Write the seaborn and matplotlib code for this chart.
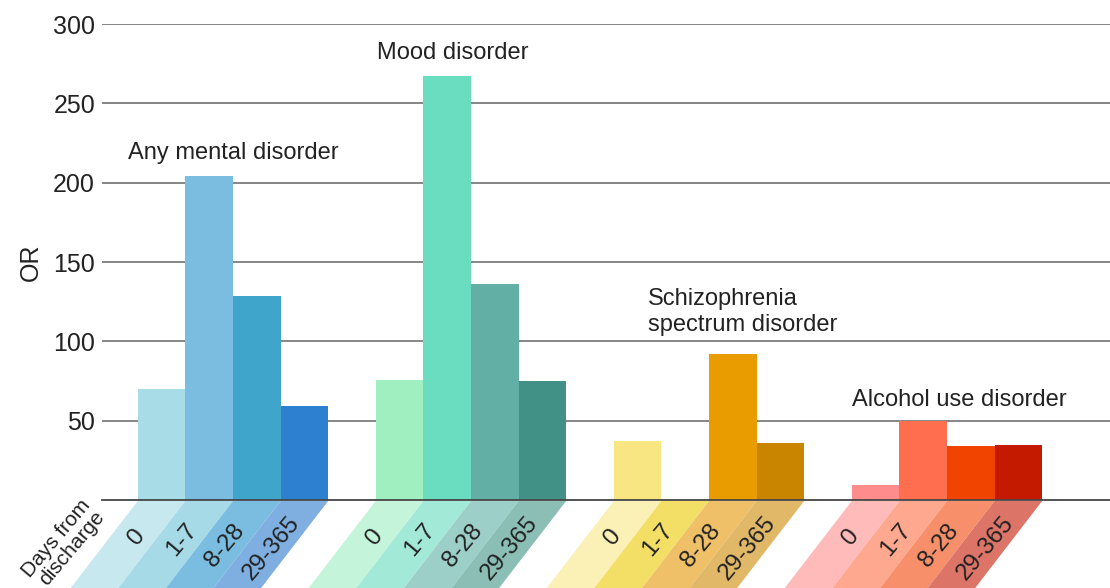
import numpy as np
import pandas as pd
import seaborn as sns
import matplotlib.pyplot as plt
from matplotlib.patches import Polygon

disorders = ["Any mental disorder", "Mood disorder", "Schizophrenia spectrum disorder", "Alcohol use disorder"]
days = ["0", "1-7", "8-28", "29-365"]

any_mental = [70, 204, 128.5, 59]
mood = [75.5, 267, 136, 75]
schizo = [37.5, np.nan, 92, 36]
alcohol = [9.5, 49.5, 34, 34.5]

bar_colors = [
    ["#a8dce7", "#7bbde0", "#3fa5cb", "#2d7fd0"],
    ["#a0efc0", "#6adcc0", "#62b0a5", "#419186"],
    ["#f8e682", "#f4df66", "#e99c00", "#c98500"],
    ["#ff8c8c", "#ff6e4f", "#f04400", "#c41a00"],
]
band_colors = [
    ["#c8e8ef", "#a5dae6", "#7bbde0", "#7faee0"],
    ["#c4f4d9", "#a3e9d8", "#9ccfc8", "#8bbfb6"],
    ["#fbf0b5", "#f4df66", "#f0c068", "#e0b868"],
    ["#ffbaba", "#ffa890", "#f68f6a", "#dd7468"],
]

rows = []
for d, vals in zip(disorders, [any_mental, mood, schizo, alcohol]):
    for k, v in zip(days, vals):
        rows.append({"disorder": d, "days": k, "OR": v})
df = pd.DataFrame(rows)

sns.set_theme(style="white")
plt.rcParams["font.family"] = ["Liberation Sans", "DejaVu Sans"]

fig = plt.figure(figsize=(11.1, 5.88), dpi=100)
ax = fig.add_axes([102 / 1110, 88 / 588, 1 - 102 / 1110, (500 - 24) / 588])

bar_w = 0.8
sns.barplot(data=df, x="disorder", y="OR", hue="days", order=disorders, hue_order=days,
            errorbar=None, width=bar_w, saturation=1, ax=ax, zorder=2)
ax.legend_.remove()

# recolour each bar by its group / day bin
step = bar_w / len(days)
for p in ax.patches:
    xc = p.get_x() + p.get_width() / 2
    if not (np.isfinite(xc) and np.isfinite(p.get_height())):
        continue
    g = int(round(xc))
    h = int(round((xc - g + bar_w / 2 - step / 2) / step))
    p.set_facecolor(bar_colors[g][h])
    p.set_edgecolor("none")

ax.set_xlim(-0.55, 3.685)
ax.set_ylim(0, 300)
ax.set_yticks([50, 100, 150, 200, 250, 300])
ax.tick_params(axis="y", length=0, pad=5, labelsize=18, labelcolor="#222222")
ax.set_xticks([])
ax.set_xlabel("")
ax.set_ylabel("OR", fontsize=18, color="#222222", labelpad=7)
for s in ["top", "right", "left"]:
    ax.spines[s].set_visible(False)
ax.spines["bottom"].set_color("#444444")
ax.spines["bottom"].set_linewidth(1.3)
ax.yaxis.grid(True, color="#666666", linewidth=1.1)
ax.set_axisbelow(True)

# group titles
tkw = dict(fontsize=17, color="#222222")
ax.text(0, 218.5, "Any mental disorder", ha="center", va="center", **tkw)
ax.text(0.925, 281.5, "Mood disorder", ha="center", va="center", **tkw)
ax.text(1.744, 118.5, "Schizophrenia\nspectrum disorder", ha="left", va="center", linespacing=1.25, **tkw)
ax.text(2.60, 63, "Alcohol use disorder", ha="left", va="center", **tkw)

# slanted tick-label bands under the axis
fig.canvas.draw()
to_fig = fig.transFigure.inverted()
slope = 0.77
depth = 120
label_depth = [36, 39, 45, 47]
y0 = ax.transData.transform((0, 0))[1] - 1
for g in range(len(disorders)):
    for h in range(len(days)):
        xa = g - bar_w / 2 + h * step
        pa = ax.transData.transform((xa, 0))[0]
        pb = ax.transData.transform((xa + step, 0))[0]
        pts = [(pa, y0), (pb, y0), (pb - slope * depth, y0 - depth), (pa - slope * depth, y0 - depth)]
        pts = to_fig.transform(pts)
        fig.add_artist(Polygon(pts, closed=True, facecolor=band_colors[g][h], edgecolor="none",
                               transform=fig.transFigure, zorder=0))
        d = label_depth[h]
        cx = (pa + pb) / 2 - slope * d + 3
        tx, ty = to_fig.transform((cx, y0 - d))
        fig.text(tx, ty, days[h], rotation=50, rotation_mode="anchor", ha="center", va="center",
                 fontsize=17.5, color="#222222", zorder=3)

tx, ty = to_fig.transform((63, 588 - 544))
fig.text(tx, ty, "Days from\ndischarge", rotation=50, rotation_mode="anchor", ha="center",
         va="center", multialignment="right", fontsize=15, color="#222222", linespacing=0.95)

fig.savefig("out.png", dpi=100)
plt.close()
